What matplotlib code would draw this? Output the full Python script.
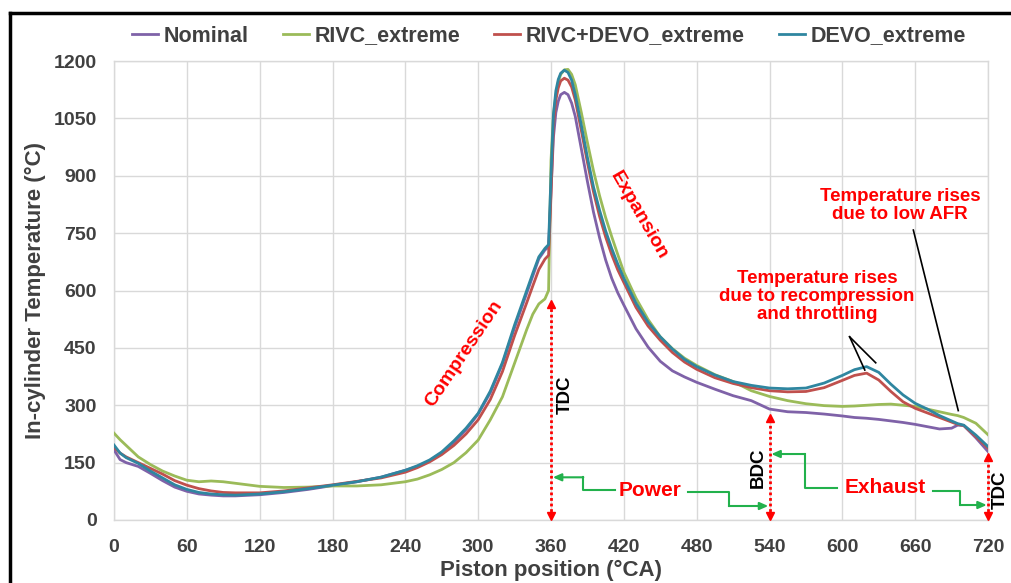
import matplotlib
matplotlib.use("Agg")
import matplotlib.pyplot as plt
from matplotlib.lines import Line2D

plt.rcParams['font.family'] = ['Liberation Sans', 'DejaVu Sans']
plt.rcParams['font.weight'] = 'bold'

# ---------------- data ----------------
crank_angle = [0, 5, 10, 20, 30, 40, 50, 60, 70, 80, 90, 100, 120, 140, 160, 180, 200, 220, 240, 250,
               260, 270, 280, 290, 300, 310, 320, 330, 340, 345, 350, 355, 358, 360, 362, 364, 366, 368, 371, 374,
               377, 380, 385, 390, 395, 400, 405, 410, 415, 420, 430, 440, 450, 460, 470, 480, 495, 510, 525, 540,
               555, 570, 585, 600, 610, 620, 630, 640, 650, 660, 670, 680, 690, 695, 700, 710, 720]

nominal = [183, 158, 150, 140, 122, 103, 86, 75, 68, 65, 63, 63, 66, 72, 80, 90, 100, 112, 130, 140,
           155, 176, 203, 236, 277, 333, 408, 503, 593, 638, 683, 706, 714, 860, 1000, 1065, 1095, 1112, 1118, 1112,
           1090, 1055, 970, 885, 805, 738, 680, 632, 594, 562, 500, 452, 415, 390, 374, 360, 342, 325, 312, 290,
           283, 281, 277, 272, 268, 266, 263, 259, 255, 250, 244, 238, 240, 248, 247, 215, 179]

rivc_extreme = [227, 210, 195, 165, 145, 128, 115, 104, 100, 102, 100, 96, 88, 85, 86, 89, 89, 92, 100, 107,
                118, 132, 150, 176, 209, 262, 322, 410, 498, 538, 565, 578, 600, 940, 1060, 1110, 1145, 1165, 1177, 1178,
                1165, 1138, 1065, 987, 913, 848, 791, 741, 694, 648, 580, 524, 479, 448, 423, 404, 380, 362, 338, 323,
                312, 304, 299, 297, 298, 300, 302, 303, 300, 297, 290, 283, 276, 273, 268, 253, 223]

rivc_devo_extreme = [190, 175, 165, 150, 135, 120, 103, 91, 82, 76, 72, 71, 71, 76, 84, 92, 101, 110, 125, 137,
                     152, 171, 195, 225, 262, 315, 388, 482, 568, 612, 655, 682, 692, 850, 1030, 1098, 1130, 1148, 1155, 1150,
                     1132, 1098, 1018, 935, 858, 794, 740, 694, 654, 621, 556, 507, 470, 438, 413, 394, 372, 357, 346, 338,
                     335, 336, 346, 365, 378, 384, 366, 336, 309, 292, 280, 268, 256, 250, 247, 218, 188]

devo_extreme = [196, 175, 163, 148, 128, 110, 92, 80, 72, 68, 66, 65, 68, 74, 82, 91, 100, 112, 130, 142,
                157, 178, 207, 240, 279, 337, 412, 510, 600, 645, 688, 710, 720, 900, 1060, 1122, 1152, 1168, 1176, 1170,
                1150, 1112, 1032, 948, 871, 810, 756, 710, 669, 632, 567, 517, 479, 447, 420, 401, 379, 362, 352, 345,
                343, 345, 358, 378, 393, 401, 386, 355, 327, 305, 290, 273, 259, 252, 248, 222, 192]

series_names = ['Nominal', 'RIVC_extreme', 'RIVC+DEVO_extreme', 'DEVO_extreme']
series_colors = ['#7F62A8', '#9BBB59', '#C0504D', '#2F86A0']

x_ticks = [0, 60, 120, 180, 240, 300, 360, 420, 480, 540, 600, 660, 720]
y_ticks = [0, 150, 300, 450, 600, 750, 900, 1050, 1200]

# ---------------- figure ----------------
W, H = 1011, 583
fig = plt.figure(figsize=(W / 100, H / 100), dpi=100)
ax = fig.add_axes([114 / W, 1 - 520 / H, (988 - 114) / W, (520 - 61) / H])

for vals, name, col in zip([nominal, rivc_extreme, rivc_devo_extreme, devo_extreme], series_names, series_colors):
    ax.plot(crank_angle, vals, color=col, lw=2.0, label=name, solid_joinstyle='round', zorder=3)

ax.set_xlim(0, 720)
ax.set_ylim(0, 1200)
ax.set_xticks(x_ticks)
ax.set_yticks(y_ticks)
ax.grid(True, color='#D9D9D9', lw=1.0, zorder=0)
for s in ax.spines.values():
    s.set_color('#D9D9D9')
    s.set_linewidth(1.0)
ax.tick_params(length=0, labelsize=14, labelcolor='#404040')
ax.tick_params(axis='x', pad=13.5)
ax.tick_params(axis='y', pad=12.5)
for lab in ax.get_xticklabels() + ax.get_yticklabels():
    lab.set_fontweight('bold')

ax.set_xlabel('Piston position (\u00b0CA)', fontsize=16, fontweight='bold', color='#404040', labelpad=3)
ax.set_ylabel('In-cylinder Temperature (\u00b0C)', fontsize=16, fontweight='bold', color='#404040', labelpad=5.5)

leg = fig.legend(loc='center', bbox_to_anchor=(549 / W, 1 - 36 / H), ncol=4, frameon=False,
                 handlelength=1.2, handletextpad=0.25, columnspacing=1.6,
                 prop={'weight': 'bold', 'size': 15.5})
for t in leg.get_texts():
    t.set_color('#404040')

# ---------------- annotations ----------------
red = '#FF0000'
ax.text(288, 436, 'Compression', color=red, fontsize=14, fontweight='bold', rotation=56,
        ha='center', va='center', rotation_mode='anchor')
ax.text(432, 797, 'Expansion', color=red, fontsize=14, fontweight='bold', rotation=-60,
        ha='center', va='center', rotation_mode='anchor')

ax.text(371.5, 327, 'TDC', color='black', fontsize=13.5, fontweight='bold', rotation=90, ha='center', va='center')
ax.text(530.5, 136, 'BDC', color='black', fontsize=13.5, fontweight='bold', rotation=90, ha='center', va='center')
ax.text(730.5, 78, 'TDC', color='black', fontsize=13.5, fontweight='bold', rotation=90, ha='center', va='center',
        clip_on=False)

ax.text(441.5, 78, 'Power', color=red, fontsize=15, fontweight='bold', ha='center', va='center')
ax.text(635, 86, 'Exhaust', color=red, fontsize=15, fontweight='bold', ha='center', va='center')

ax.text(579, 584, 'Temperature rises\ndue to recompression\nand throttling', color=red, fontsize=13.5,
        fontweight='bold', ha='center', va='center', linespacing=1.05)
ax.text(647.5, 823, 'Temperature rises\ndue to low AFR', color=red, fontsize=13.5,
        fontweight='bold', ha='center', va='center', linespacing=1.05)

# leader lines
ax.plot([606, 618.5], [479, 392], color='black', lw=1.2, zorder=4)
ax.plot([606, 627.5], [479, 411], color='black', lw=1.2, zorder=4)
ax.plot([658.5, 695.5], [758, 286], color='black', lw=1.2, zorder=4)

# red dotted double arrows (TDC / BDC markers)
for xm, ytop in [(360, 560), (540, 262), (720, 160)]:
    ax.plot([xm, xm], [8, ytop], color=red, lw=2.0, linestyle=(0, (1, 1)), zorder=4, clip_on=False)
    ax.plot([xm], [ytop + 5], marker='^', color=red, ms=6, zorder=5, clip_on=False)
    ax.plot([xm], [10], marker='v', color=red, ms=6, zorder=5, clip_on=False)

# green elbow arrows
green = '#22B14C'
paths = [
    [(412.7, 78.4), (386.6, 78.4), (386.6, 111.6), (361.5, 111.6)],
    [(473.1, 74), (506.6, 74), (506.6, 36.6), (539, 36.6)],
    [(595.4, 82.9), (569.2, 82.9), (569.2, 172.5), (541.5, 172.5)],
    [(675, 75.8), (697, 75.8), (697, 39.2), (719, 39.2)],
]
for p in paths:
    xs = [q[0] for q in p[:-1]]
    ys = [q[1] for q in p[:-1]]
    ax.plot(xs, ys, color=green, lw=1.5, zorder=4)
    ax.annotate('', xy=p[-1], xytext=p[-2],
                arrowprops=dict(arrowstyle='-|>,head_length=0.5,head_width=0.22', color=green, lw=1.5,
                                shrinkA=0, shrinkB=0), zorder=4)

# figure border (black frame, partially cropped)
fig.add_artist(Line2D([10 / W, 1.0], [1 - 13 / H, 1 - 13 / H], transform=fig.transFigure, color='black', lw=2.5))
fig.add_artist(Line2D([10 / W, 10 / W], [0, 1 - 13 / H], transform=fig.transFigure, color='black', lw=2.5))

fig.savefig('out.png', dpi=100)
